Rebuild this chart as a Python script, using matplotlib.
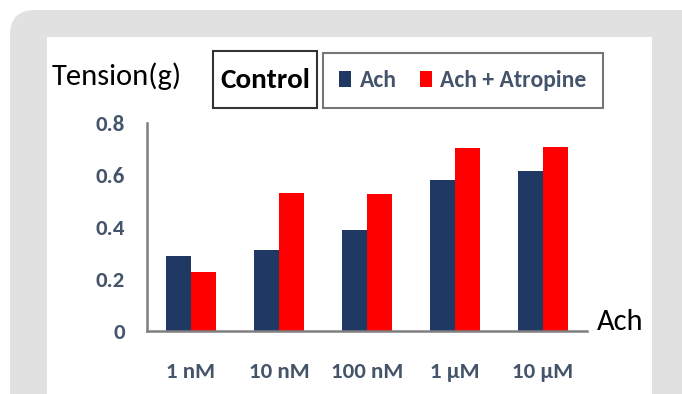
import matplotlib
matplotlib.use("Agg")
import matplotlib.pyplot as plt
from matplotlib.patches import FancyBboxPatch, Rectangle, Patch
from matplotlib import font_manager
import numpy as np

# data
doses = ["1 nM", "10 nM", "100 nM", "1 \u00b5M", "10 \u00b5M"]
ach = [0.29, 0.31, 0.39, 0.58, 0.615]
ach_atropine = [0.228, 0.532, 0.527, 0.703, 0.706]
yticks = [0, 0.2, 0.4, 0.6, 0.8]

navy = "#203864"
red = "#ff0000"
slate = "#44546a"

# calibri-like font if there is one
names = {f.name for f in font_manager.fontManager.ttflist}
fam = "DejaVu Sans"
for cand in ["Carlito", "Liberation Sans Narrow", "Asap Condensed", "Archivo Narrow", "Lato"]:
    if cand in names:
        fam = cand
        break
plt.rcParams["font.family"] = [fam, "DejaVu Sans"]

fig = plt.figure(figsize=(6.82, 3.94), dpi=100)
fig.patch.set_facecolor("white")

# grey rounded panel and white plot area behind everything
fig.add_artist(FancyBboxPatch((0.10, -0.5), 7.2, 4.34, boxstyle="round,pad=0,rounding_size=0.25",
                              transform=fig.dpi_scale_trans, facecolor="#e1e1e1", edgecolor="none",
                              zorder=-10))
fig.add_artist(Rectangle((0.47, 0), 6.05, 3.57, transform=fig.dpi_scale_trans,
                         facecolor="white", edgecolor="none", zorder=-9))

ax = fig.add_axes([147/682, 63/394, 440/682, 208/394])
ax.patch.set_alpha(0)

x = np.arange(len(doses))
w = 0.28
ax.bar(x - w/2, ach, w, color=navy, label="Ach")
ax.bar(x + w/2, ach_atropine, w, color=red, label="Ach + Atropine")

ax.set_xlim(-0.5, 4.5)
ax.set_ylim(0, 0.8)
ax.set_yticks(yticks)
ax.set_yticklabels(["0", "0.2", "0.4", "0.6", "0.8"])
ax.set_xticks(x)
ax.set_xticklabels(doses)
ax.tick_params(axis="both", length=0, labelsize=16.5, labelcolor=slate)
ax.tick_params(axis="y", pad=16)
ax.tick_params(axis="x", pad=22)
for lab in ax.get_xticklabels() + ax.get_yticklabels():
    lab.set_fontweight("bold")
for s in ["top", "right"]:
    ax.spines[s].set_visible(False)
for s in ["left", "bottom"]:
    ax.spines[s].set_color("#7f7f7f")
    ax.spines[s].set_linewidth(1.8)

ax.text(1.023, 0.045, "Ach", transform=ax.transAxes, ha="left", va="center",
        fontsize=22, color="black")
fig.text(52/682, 0.807, "Tension(g)", ha="left", va="center", fontsize=22, color="black")

# "Control" box
fig.add_artist(Rectangle((213/682, 1 - 108/394), 104/682, 57/394, transform=fig.transFigure,
                         facecolor="white", edgecolor="#333333", linewidth=1.5))
fig.text(265/682, 1 - 80/394, "Control", ha="center", va="center", fontsize=21,
         fontweight="bold", color="black")

handles = [Patch(facecolor=navy), Patch(facecolor=red)]
leg = fig.legend(handles, ["Ach", "Ach + Atropine"], loc="center",
                 bbox_to_anchor=(463/682, 1 - 80.5/394), ncol=2, frameon=True,
                 fancybox=False, edgecolor="#555555", fontsize=17,
                 handlelength=0.5, handleheight=0.65, handletextpad=0.35,
                 columnspacing=1.0, borderpad=0.7, borderaxespad=0)
leg.get_frame().set_linewidth(1.5)
for t in leg.get_texts():
    t.set_color(slate)
    t.set_fontweight("bold")

fig.savefig("out.png", dpi=100)
